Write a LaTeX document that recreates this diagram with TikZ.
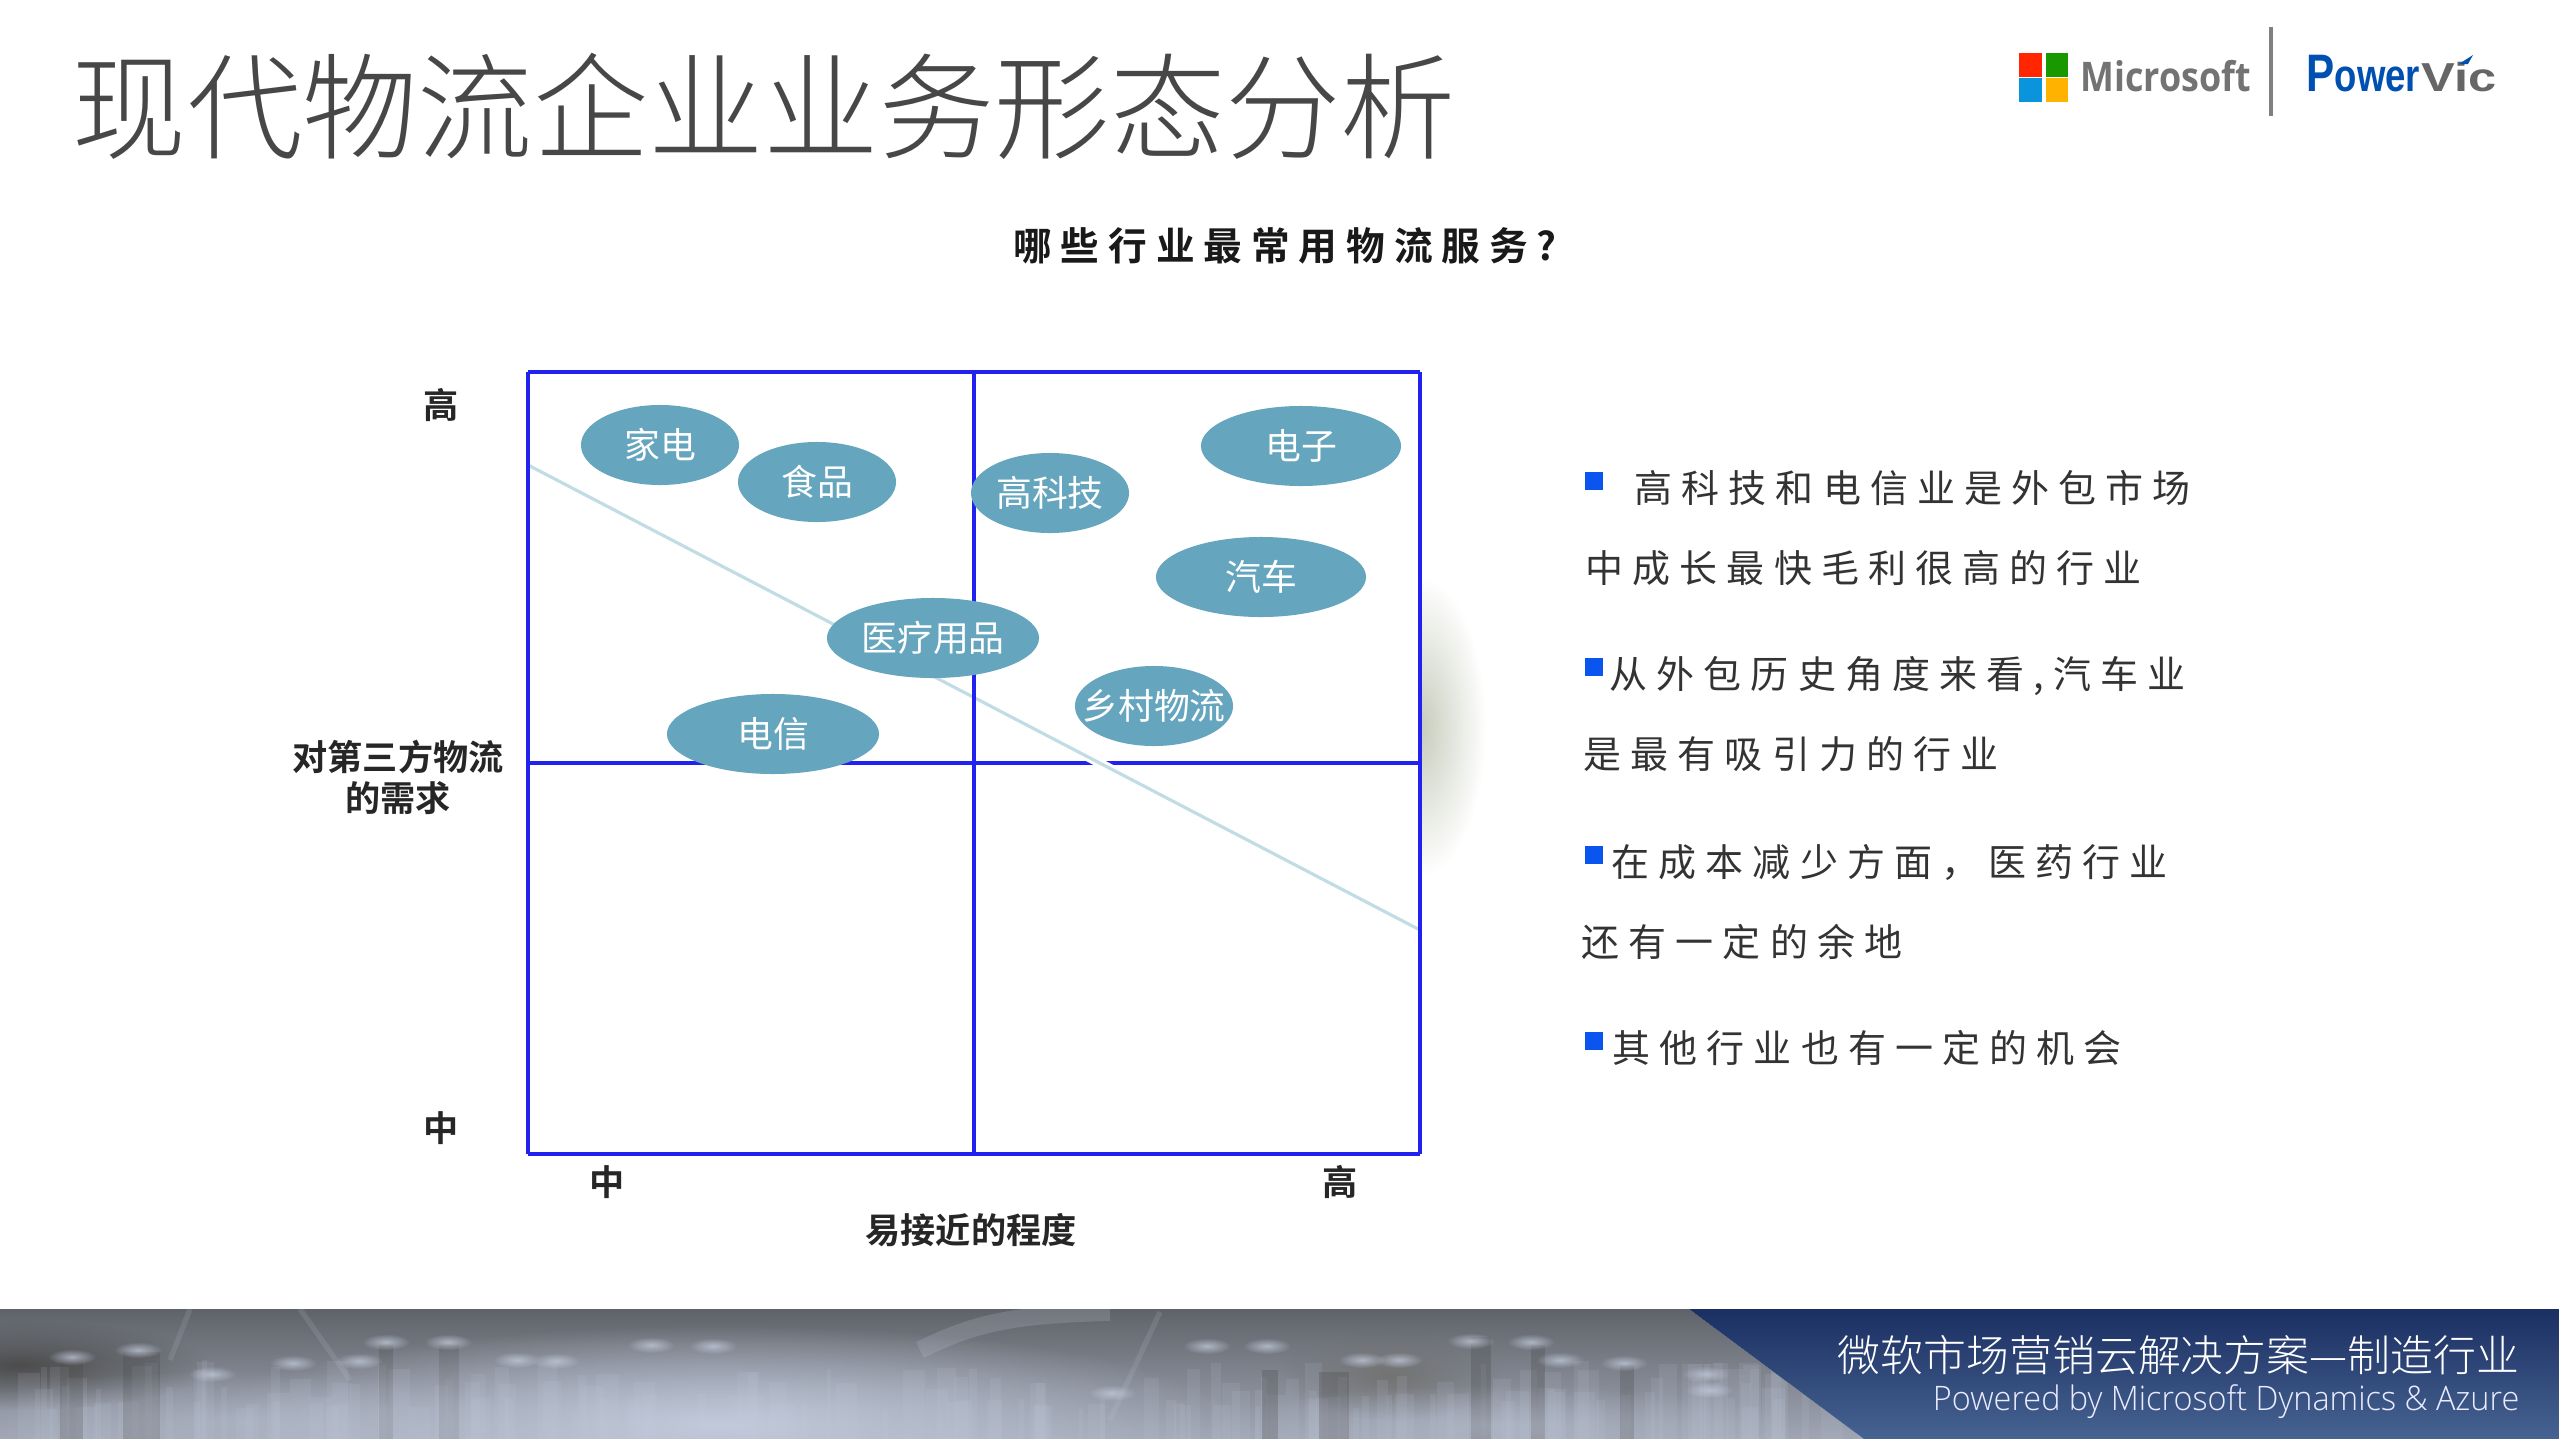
\documentclass[tikz,border=0pt]{standalone}
\usepackage{fontspec}
\usetikzlibrary{shapes.geometric,fadings}
\newfontfamily\cjkfont{Noto Sans CJK SC}
\newfontfamily\cjkthin{Noto Sans CJK SC Light}
\newfontfamily\cjkwide[LetterSpace=24]{Noto Sans CJK SC}
\newfontfamily\cjkhead[LetterSpace=23]{Noto Sans CJK SC Bold}
\newfontfamily\cjkbold{Noto Sans CJK SC Bold}
\newfontfamily\logofont{Liberation Sans}
\newfontfamily\footfont{Open Sans Light}
\newfontfamily\msfont{Open Sans}
\definecolor{framblue}{HTML}{2222F0}
\definecolor{ovalblue}{HTML}{65A5BD}
\definecolor{diagblue}{HTML}{C2DCE5}
\definecolor{bulletblue}{HTML}{0A55F0}
\definecolor{shadowgrey}{HTML}{C6CCBC}
\definecolor{bandtop}{HTML}{5F6369}
\definecolor{bandlow}{HTML}{A0A6B4}
\definecolor{fogblue}{HTML}{C2CADB}
\tikzfading[name=softglow,inner color=transparent!0,outer color=transparent!100]
\tikzset{
  oval/.style={ellipse,fill=ovalblue,text=white,inner sep=0pt,minimum height=0.8cm,minimum width=#1,
    font=\cjkfont\fontsize{10.2pt}{11pt}\selectfont},
  axislabel/.style={text=black!85,inner sep=0pt,align=center,font=\cjkbold\fontsize{10pt}{11.7pt}\selectfont},
  sideline/.style={anchor=west,text=black!80,inner sep=0pt,font=\cjkwide\fontsize{10.8pt}{12pt}\selectfont},
  bulletmark/.style={fill=bulletblue,inner sep=0pt,minimum size=0.18cm},
  frameline/.style={draw=framblue,line width=1.1pt},
  gridline/.style={draw=framblue,line width=0.9pt},
}
\begin{document}
\begin{tikzpicture}[x=0.01cm,y=-0.01cm]
  \useasboundingbox (0,0) rectangle (2559,1439);
  % footer band
  \begin{scope}
    \clip (0,1309) -- (1689,1309) -- (1864,1439) -- (0,1439) -- cycle;
    \shade[top color=bandtop,bottom color=bandlow] (0,1309) rectangle (1900,1439);
    \fill[black!70,path fading=softglow] (20,1365) ellipse (190 and 45);
    \fill[black!55,path fading=softglow] (1390,1375) ellipse (110 and 45);
    \pgfmathsetseed{17}
    \foreach \i in {0,...,150} {
      \pgfmathsetmacro{\bx}{rnd*1860}
      \pgfmathsetmacro{\bw}{4+rnd*20}
      \pgfmathsetmacro{\bt}{1360+rnd*50}
      \fill[fogblue,opacity=0.12] (\bx,\bt) rectangle (\bx+\bw,1439);
    }
    \foreach \bx/\bw/\bt in {60/23/1358,123/37/1352,379/14/1345,439/20/1345,1262/16/1370,1319/30/1372,1471/20/1337,1531/14/1345,1620/14/1365}
      \fill[black!70,opacity=0.3] (\bx,\bt) rectangle (\bx+\bw,1439);
    \fill[fogblue,path fading=softglow] (720,1425) ellipse (520 and 100);
    \fill[fogblue,opacity=0.4,path fading=softglow] (240,1420) ellipse (300 and 50);
    \fill[fogblue,opacity=0.4,path fading=softglow] (1500,1425) ellipse (300 and 40);
    \draw[fogblue,opacity=0.2,line width=5pt] (920,1350) .. controls (980,1320) and (1020,1315) .. (1110,1312);
    \draw[fogblue,opacity=0.15,line width=1.5pt] (170,1360) -- (190,1309) (300,1309) -- (350,1380) (1110,1420) -- (1160,1312);
    \foreach \px/\py in {72/1357,138/1350,212/1374,293/1363,359/1361,386/1342,448/1342,517/1360,556/1361,651/1345,713/1346,1207/1346,1267/1346,1112/1393,1362/1360,1399/1360,1531/1342,1560/1360,1624/1363,1706/1374,1709/1390,1471/1341}
      \fill[fogblue,opacity=0.75,path fading=softglow] (\px,\py) ellipse (24 and 8);
  \end{scope}
  \shade[top color={rgb,255:red,27;green,47;blue,98},bottom color={rgb,255:red,70;green,99;blue,145}]
    (1689,1309) -- (2559,1309) -- (2559,1439) -- (1864,1439) -- cycle;
  % title and logos
  \node[anchor=center,text=black!72,inner sep=0pt,font=\cjkthin\fontsize{32.8pt}{36pt}\selectfont] (title) at (764,106) {现代物流企业业务形态分析};
  \fill[red!70!orange] (2019,53) rectangle (2042,77);
  \fill[green!55!black!90!yellow] (2046,53) rectangle (2068,77);
  \fill[cyan!80!blue] (2019,78) rectangle (2042,102);
  \fill[orange!60!yellow] (2046,78) rectangle (2068,102);
  \node[anchor=base west,text=black!55,inner sep=0pt,font=\msfont\bfseries\fontsize{11.6pt}{13pt}\selectfont] (mslogo) at (2080,91) {\scalebox{0.88}[1]{Microsoft}};
  \coordinate (sepa) at (2271,27);
  \coordinate (sepb) at (2271,116);
  \draw[black!50,line width=1.1pt] (sepa) to (sepb);
  \node[anchor=base west,text=blue!55!cyan!70!black,inner sep=0pt,font=\logofont\bfseries\fontsize{13pt}{14pt}\selectfont] (powerlogo) at (2306,91) {\scalebox{0.8}[1]{{\fontsize{15pt}{14pt}\selectfont P}ower}};
  \node[anchor=base west,text=black!60,inner sep=0pt,font=\logofont\bfseries\fontsize{11.5pt}{14pt}\selectfont] (viclogo) at (2421,91) {\scalebox{1.25}[1]{Vic}};
  \fill[blue!55!cyan!70!black] (2459,64) -- (2473,55) -- (2468,64) -- cycle;
  % heading
  \node[text=black!90,inner sep=0pt,font=\cjkhead\fontsize{11pt}{12pt}\selectfont] (heading) at (1285,246) {哪些行业最常用物流服务?};
  % shadow right of the frame
  \begin{scope}
    \clip (1420,580) rectangle (1500,890);
    \fill[shadowgrey,path fading=softglow] (1420,727) ellipse (66 and 150);
  \end{scope}
  % frame of the chart
  \coordinate (tl) at (528,372);
  \coordinate (tr) at (1420,372);
  \coordinate (bl) at (528,1154);
  \coordinate (br) at (1420,1154);
  \coordinate (tm) at (974,372);
  \coordinate (bm) at (974,1154);
  \coordinate (ml) at (528,763);
  \coordinate (mr) at (1420,763);
  \coordinate (da) at (528,465);
  \coordinate (db) at (1420,930);
  \draw[gridline] (ml) to (mr);
  \draw[white,line width=2.6pt] (da) to (db);
  \draw[diagblue,line width=0.9pt] (da) to (db);
  \draw[gridline] (tm) to (bm);
  \draw[frameline] (tl) to (tr);
  \draw[frameline] (tr) to (br);
  \draw[frameline] (br) to (bl);
  \draw[frameline] (bl) to (tl);
  % industries
  \draw
    (660,445) node[oval=1.58cm] (jiadian){家电}
    (817,482) node[oval=1.58cm] (shipin){食品}
    (1050,493) node[oval=1.58cm,inner xsep=-2pt] (gaokeji){高科技}
    (1301,446) node[oval=2cm] (dianzi){电子}
    (1261,577) node[oval=2.1cm] (qiche){汽车}
    (933,638) node[oval=2.12cm] (yiliao){医疗用品}
    (1154,706) node[oval=1.58cm,inner xsep=-5.5pt] (xiangcun){乡村物流}
    (773,734) node[oval=2.12cm] (dianxin){电信};
  % axis labels
  \draw
    (441,405) node[axislabel] (yhigh){高}
    (441,1128) node[axislabel] (ylow){中}
    (398,777) node[axislabel] (ytitle){对第三方物流\\的需求}
    (607,1182) node[axislabel] (xlow){中}
    (1340,1182) node[axislabel] (xhigh){高}
    (971,1230) node[axislabel] (xtitle){易接近的程度};
  % side text
  \draw
    (1594,481) node[bulletmark] (marka){}
    (1594,667) node[bulletmark] (markb){}
    (1594,855) node[bulletmark] (markc){}
    (1594,1041) node[bulletmark] (markd){};
  \draw
    (1634,488) node[sideline] (linea){高科技和电信业是外包市场}
    (1585,568) node[sideline] (lineb){中成长最快毛利很高的行业}
    (1609,676) node[sideline] (linec){从外包历史角度来看,汽车业}
    (1583,754) node[sideline] (lined){是最有吸引力的行业}
    (1611,862) node[sideline] (linee){在成本减少方面，医药行业}
    (1581,942) node[sideline] (linef){还有一定的余地}
    (1612,1048) node[sideline] (lineg){其他行业也有一定的机会};
  % footer text
  \node[anchor=east,text=white,inner sep=0pt,font=\cjkthin\fontsize{12.2pt}{14pt}\selectfont] (foota) at (2520,1355) {微软市场营销云解决方案—制造行业};
  \node[anchor=base east,text=white!92!blue,inner sep=0pt,font=\footfont\fontsize{9.6pt}{11pt}\selectfont] (footb) at (2520,1410) {\scalebox{0.96}[1]{Powered by Microsoft Dynamics \& Azure}};
\end{tikzpicture}
\end{document}
